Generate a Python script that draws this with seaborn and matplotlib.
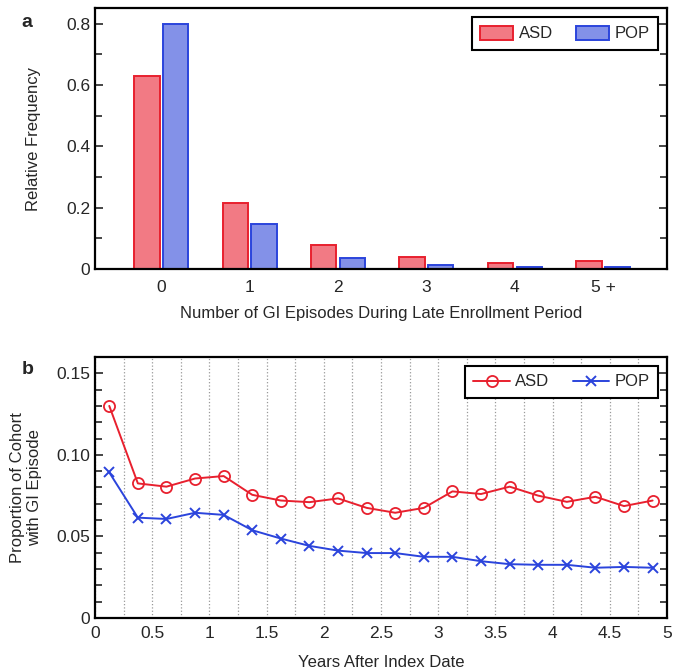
import numpy as np
import pandas as pd
import seaborn as sns
import matplotlib.pyplot as plt
from matplotlib.ticker import MultipleLocator

# --- DATA ---
episodes = ["0", "1", "2", "3", "4", "5 +"]
asd_freq = [0.63, 0.215, 0.078, 0.040, 0.020, 0.025]
pop_freq = [0.80, 0.148, 0.036, 0.013, 0.006, 0.006]

years = [0.125, 0.375, 0.625, 0.875, 1.125, 1.375, 1.625, 1.875, 2.125, 2.375,
         2.625, 2.875, 3.125, 3.375, 3.625, 3.875, 4.125, 4.375, 4.625, 4.875]
asd_prop = [0.130, 0.0825, 0.0805, 0.0855, 0.087, 0.0755, 0.072, 0.071, 0.0733, 0.0675,
            0.0645, 0.0675, 0.0776, 0.076, 0.0805, 0.075, 0.0712, 0.0743, 0.0686, 0.072]
pop_prop = [0.0892, 0.0615, 0.0607, 0.0645, 0.0632, 0.0538, 0.0487, 0.0442, 0.0413, 0.0398,
            0.0398, 0.0375, 0.0375, 0.0348, 0.033, 0.0326, 0.0326, 0.0308, 0.0313, 0.0308]

freq_ticks = [0, 0.2, 0.4, 0.6, 0.8]
freq_labels = ["0", "0.2", "0.4", "0.6", "0.8"]
year_ticks = [0, 0.5, 1, 1.5, 2, 2.5, 3, 3.5, 4, 4.5, 5]
year_labels = ["0", "0.5", "1", "1.5", "2", "2.5", "3", "3.5", "4", "4.5", "5"]
prop_ticks = [0, 0.05, 0.10, 0.15]
prop_labels = ["0", "0.05", "0.10", "0.15"]

RED_EDGE, RED_FILL = "#E8202E", "#F27A84"
BLUE_EDGE, BLUE_FILL = "#2B44DC", "#8391E8"

sns.set_theme(style="white")
plt.rcParams['font.family'] = ['Liberation Sans', 'DejaVu Sans']
plt.rcParams['font.size'] = 12

fig = plt.figure(figsize=(6.75, 6.71), dpi=100)
ax1 = fig.add_axes([0.1407, 0.599, 0.8473, 0.3886])
ax2 = fig.add_axes([0.1407, 0.079, 0.8473, 0.389])

# --- panel a: bars ---
df_bar = pd.DataFrame({
    "episodes": episodes * 2,
    "freq": asd_freq + pop_freq,
    "group": ["ASD"] * len(episodes) + ["POP"] * len(episodes),
})
sns.barplot(data=df_bar, x="episodes", y="freq", hue="group",
            palette={"ASD": RED_FILL, "POP": BLUE_FILL},
            width=0.65, gap=0.12, linewidth=1.4, saturation=1, ax=ax1)
for bar, grp in zip(ax1.patches, ["ASD"] * 6 + ["POP"] * 6):
    bar.set_edgecolor(RED_EDGE if grp == "ASD" else BLUE_EDGE)
handles, labels = ax1.get_legend_handles_labels()
for h, ec in zip(handles, [RED_EDGE, BLUE_EDGE]):
    h.set_edgecolor(ec)
    h.set_linewidth(1.4)
leg = ax1.legend(handles, labels, loc="upper right", ncol=2, fancybox=False,
                 edgecolor="black", framealpha=1, fontsize=12,
                 handlelength=2.0, handleheight=0.9, columnspacing=1.4,
                 handletextpad=0.3, borderaxespad=0.55, borderpad=0.5)
leg.get_frame().set_linewidth(1.5)

ax1.set_xlim(-0.75, 5.72)
ax1.set_ylim(0, 0.85)
ax1.set_yticks(freq_ticks, labels=freq_labels)
ax1.yaxis.set_minor_locator(MultipleLocator(0.1))
ax1.set_xlabel("Number of GI Episodes During Late Enrollment Period", fontsize=12, labelpad=8)
ax1.set_ylabel("Relative Frequency", fontsize=12, labelpad=18)
ax1.tick_params(axis="x", length=0, pad=8, labelsize=12.5)
ax1.tick_params(axis="y", which="both", direction="in", right=True, left=True,
                length=6, width=1.2, labelsize=12.5)
ax1.tick_params(axis="y", which="minor", length=5)

# --- panel b: lines ---
sns.lineplot(x=years, y=asd_prop, color=RED_EDGE, marker="o", markersize=8,
             markerfacecolor="none", markeredgecolor=RED_EDGE, markeredgewidth=1.3,
             linewidth=1.4, label="ASD", ax=ax2)
sns.lineplot(x=years, y=pop_prop, color=BLUE_EDGE, marker="x", markersize=7,
             markeredgecolor=BLUE_EDGE, markeredgewidth=1.4,
             linewidth=1.4, label="POP", ax=ax2)
leg2 = ax2.legend(loc="upper right", ncol=2, fancybox=False, edgecolor="black",
                  framealpha=1, fontsize=12, handlelength=2.2, columnspacing=1.4,
                  handletextpad=0.3, borderaxespad=0.55, borderpad=0.5)
leg2.get_frame().set_linewidth(1.5)

ax2.set_xlim(0, 5)
ax2.set_ylim(0, 0.16)
ax2.set_xticks(year_ticks, labels=year_labels)
ax2.xaxis.set_minor_locator(MultipleLocator(0.25))
ax2.set_yticks(prop_ticks, labels=prop_labels)
ax2.yaxis.set_minor_locator(MultipleLocator(0.01))
ax2.grid(True, axis="x", which="both", linestyle=":", color="#999999", linewidth=0.9)
ax2.set_axisbelow(True)
ax2.set_xlabel("Years After Index Date", fontsize=12, labelpad=10)
ax2.set_ylabel("Proportion of Cohort\nwith GI Episode", fontsize=12, labelpad=10)
ax2.tick_params(axis="x", which="both", length=0, pad=6, labelsize=12.5)
ax2.tick_params(axis="y", which="both", direction="in", right=True, left=True,
                length=6, width=1.2, labelsize=12.5)
ax2.tick_params(axis="y", which="minor", length=5)

for ax in (ax1, ax2):
    for sp in ax.spines.values():
        sp.set_linewidth(1.6)
        sp.set_color("black")

fig.text(0.032, 0.966, "a", fontsize=14, fontweight="bold", ha="left", va="center")
fig.text(0.032, 0.449, "b", fontsize=14, fontweight="bold", ha="left", va="center")

plt.savefig("out.png", dpi=100)
